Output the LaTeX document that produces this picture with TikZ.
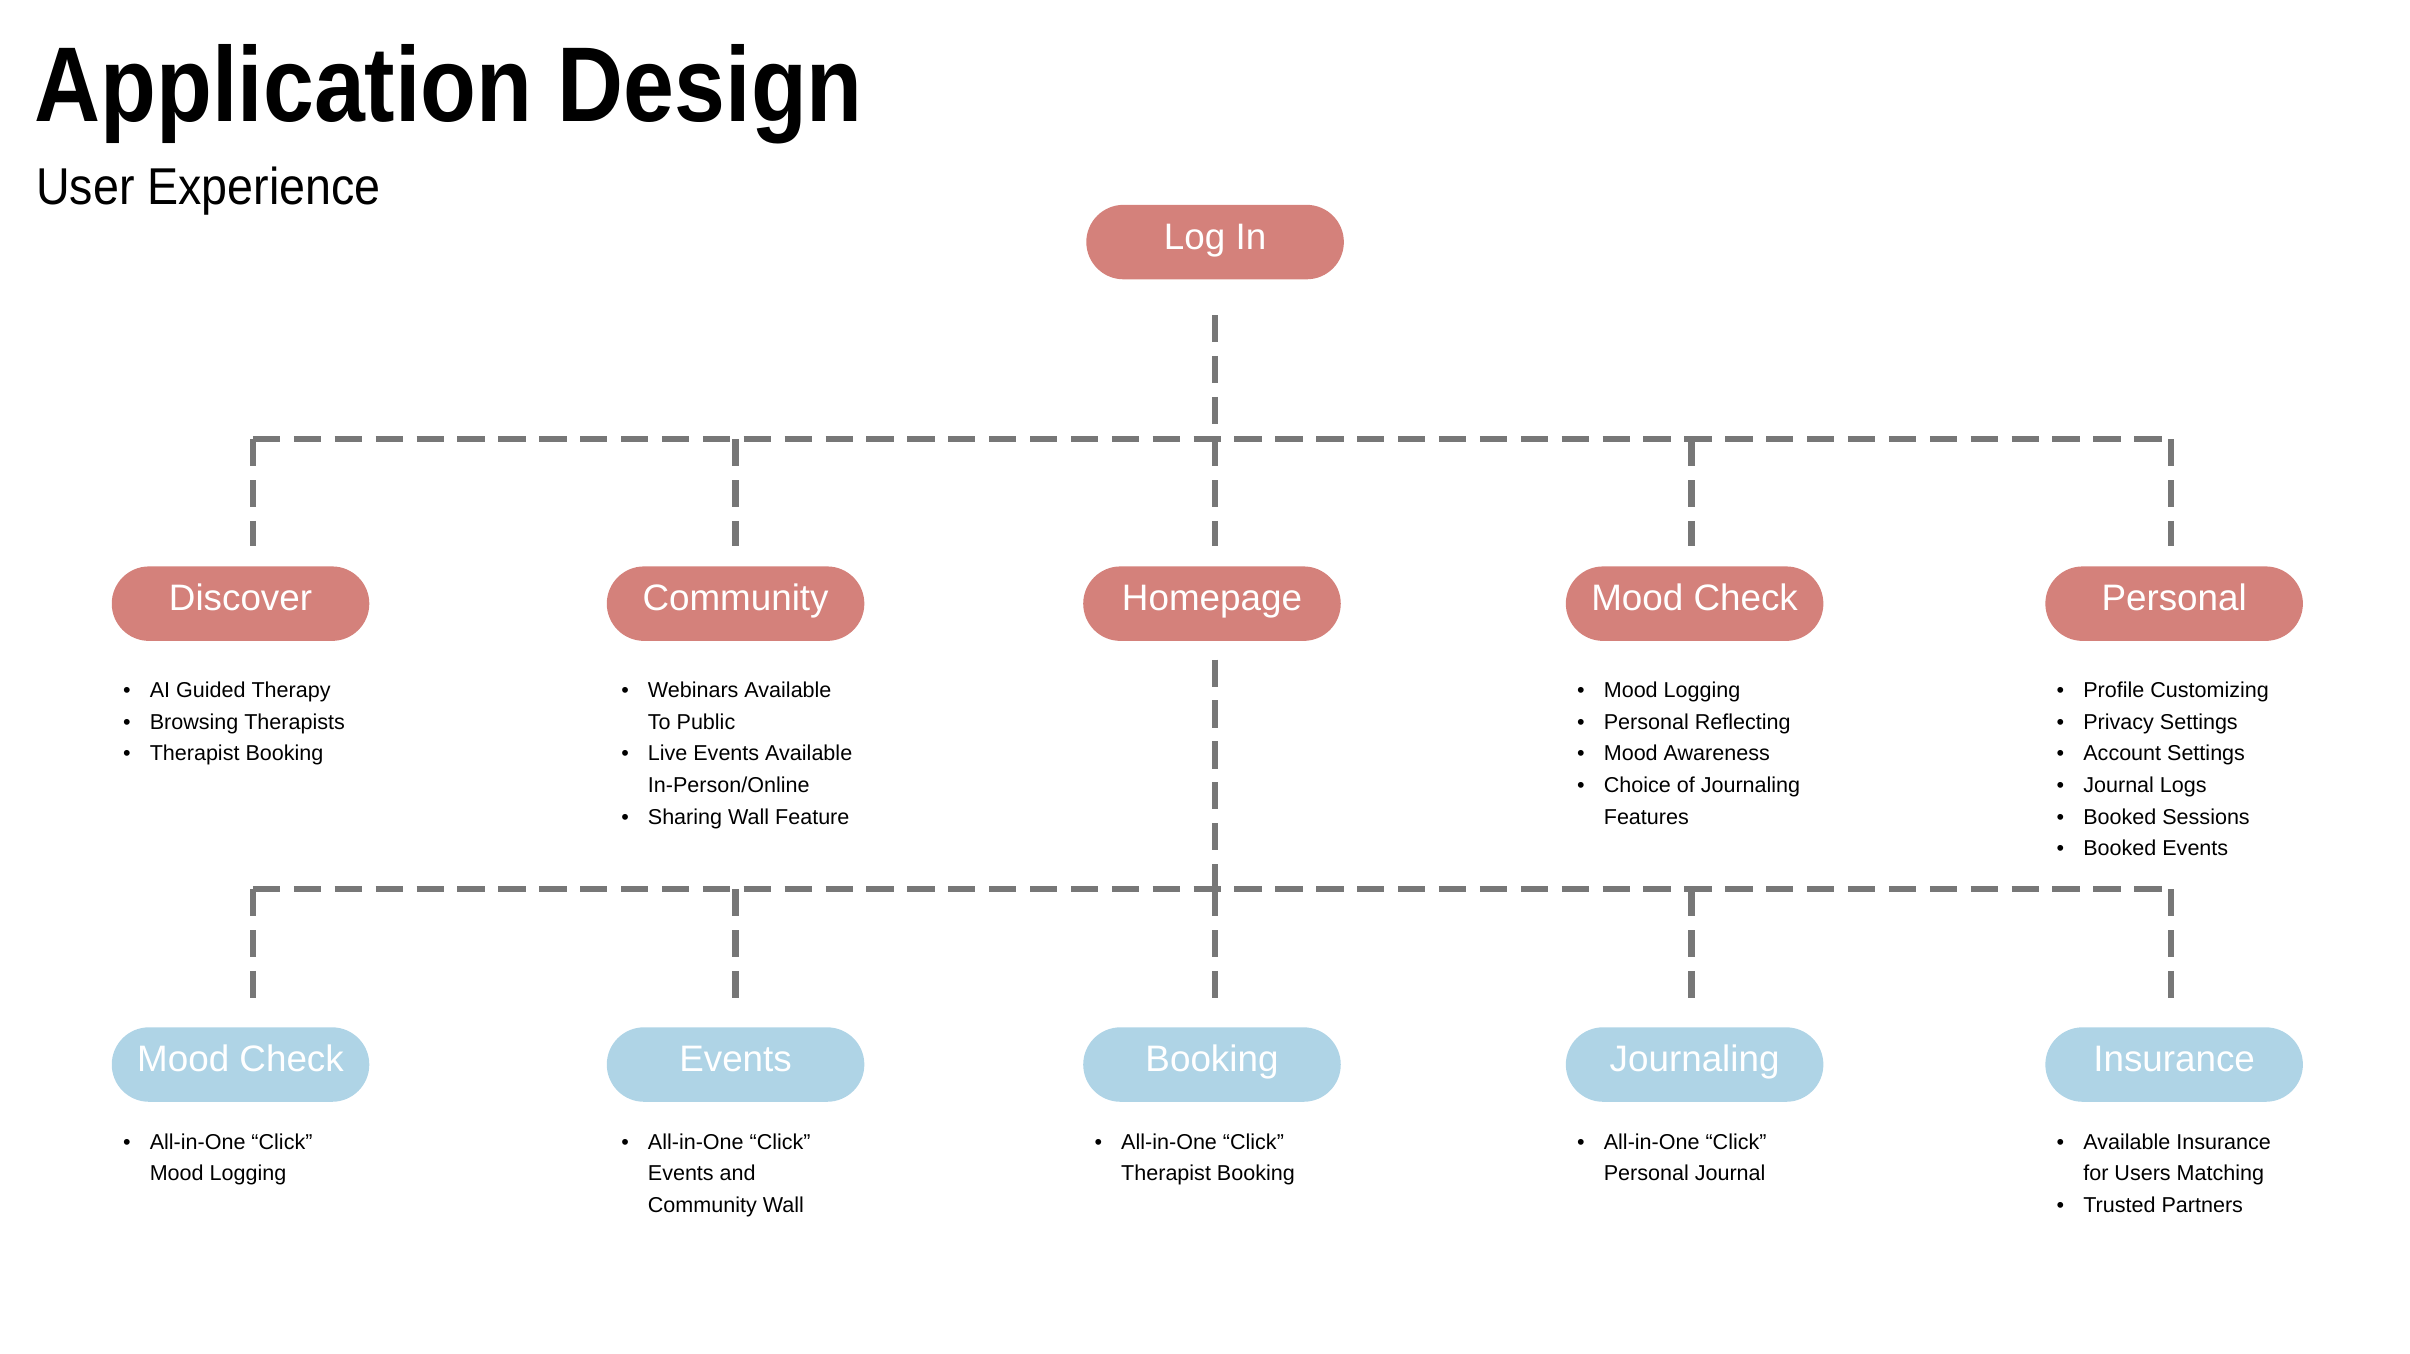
\documentclass[tikz,border=0pt]{standalone}
\usepackage{fontspec}
\setmainfont{Liberation Sans}
\newfontfamily\titlefont[FakeStretch=0.86]{Liberation Sans}
\newfontfamily\subfont[FakeStretch=0.9]{Liberation Sans}
\definecolor{pred}{HTML}{D4817B}
\definecolor{pblue}{HTML}{AFD4E6}
\definecolor{dgray}{HTML}{777777}
\begin{document}
\begin{tikzpicture}[x=0.02cm,y=-0.02cm,
 pill/.style={rounded corners=0.48cm,minimum width=3.32cm,minimum height=0.96cm,text=white,font=\fontsize{13.5}{16}\selectfont,inner sep=0pt,text height=0.72em,text depth=0.2em},
 rpill/.style={pill,fill=pred},
 bpill/.style={pill,fill=pblue},
 dline/.style={draw=dgray,line width=2.3pt,dash pattern=on 10pt off 5pt},
 lst/.style={anchor=north west,inner sep=0pt,font=\fontsize{7.9}{11.6}\selectfont,align=left}]
\useasboundingbox (0,0) rectangle (1553,872.5);
\node[anchor=base west,inner sep=0pt,font=\fontsize{39}{44}\selectfont\titlefont\bfseries] (t) at (22,78) {Application Design};
\node[anchor=base west,inner sep=0pt,font=\fontsize{19}{24}\selectfont\subfont] (st) at (23,132) {User Experience};
\node[rpill] (login) at (783,156) {Log In};
\foreach \n/\x/\t in {d/155/Discover,c/474/Community,h/781/Homepage,m/1092/Mood Check,p/1401/Personal}
  \node[rpill] (\n) at (\x,389) {\t};
\foreach \n/\x/\t in {bm/155/Mood Check,be/474/Events,bb/781/Booking,bj/1092/Journaling,bi/1401/Insurance}
  \node[bpill] (\n) at (\x,686) {\t};
\coordinate (a0) at (783,203);
\coordinate (aL) at (163,283); \coordinate (aR) at (1399,283);
\draw[dline] (a0) -- (783,283);
\draw[dline] (aL) -- (aR);
\foreach \x in {163,474,783,1090,1399} \draw[dline] (\x,283) -- (\x,352);
\coordinate (b0) at (783,425);
\coordinate (bL) at (163,573); \coordinate (bR) at (1399,573);
\draw[dline] (b0) -- (783,573);
\draw[dline] (bL) -- (bR);
\foreach \x in {163,474,783,1090,1399} \draw[dline] (\x,573) -- (\x,643);
\newcommand{\lb}{\textbullet}
\node[lst] (ld) at (79,435) {\begin{tabular}{@{}l@{\hspace{7pt}}l@{}}\lb&AI Guided Therapy\\\lb&Browsing Therapists\\\lb&Therapist Booking\end{tabular}};
\node[lst] (lc) at (400,435) {\begin{tabular}{@{}l@{\hspace{7pt}}l@{}}\lb&Webinars Available\\&To Public\\\lb&Live Events Available\\&In-Person/Online\\\lb&Sharing Wall Feature\end{tabular}};
\node[lst] (lm) at (1016,435) {\begin{tabular}{@{}l@{\hspace{7pt}}l@{}}\lb&Mood Logging\\\lb&Personal Reflecting\\\lb&Mood Awareness\\\lb&Choice of Journaling\\&Features\end{tabular}};
\node[lst] (lp) at (1325,435) {\begin{tabular}{@{}l@{\hspace{7pt}}l@{}}\lb&Profile Customizing\\\lb&Privacy Settings\\\lb&Account Settings\\\lb&Journal Logs\\\lb&Booked Sessions\\\lb&Booked Events\end{tabular}};
\node[lst] (lbm) at (79,726) {\begin{tabular}{@{}l@{\hspace{7pt}}l@{}}\lb&All-in-One “Click”\\&Mood Logging\end{tabular}};
\node[lst] (lbe) at (400,726) {\begin{tabular}{@{}l@{\hspace{7pt}}l@{}}\lb&All-in-One “Click”\\&Events and\\&Community Wall\end{tabular}};
\node[lst] (lbb) at (705,726) {\begin{tabular}{@{}l@{\hspace{7pt}}l@{}}\lb&All-in-One “Click”\\&Therapist Booking\end{tabular}};
\node[lst] (lbj) at (1016,726) {\begin{tabular}{@{}l@{\hspace{7pt}}l@{}}\lb&All-in-One “Click”\\&Personal Journal\end{tabular}};
\node[lst] (lbi) at (1325,726) {\begin{tabular}{@{}l@{\hspace{7pt}}l@{}}\lb&Available Insurance\\&for Users Matching\\\lb&Trusted Partners\end{tabular}};
\end{tikzpicture}
\end{document}
